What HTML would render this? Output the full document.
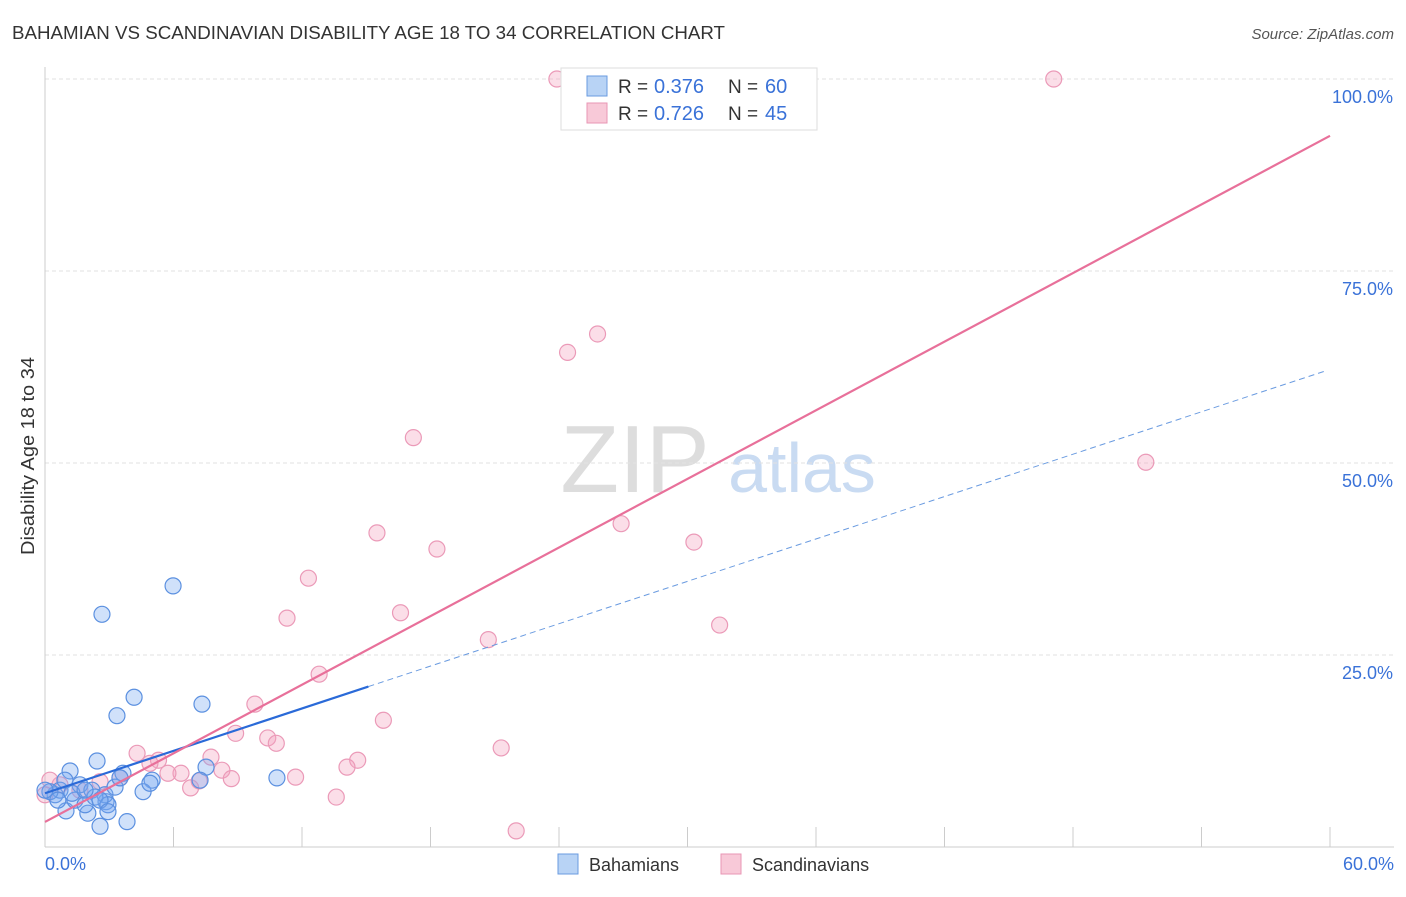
<!DOCTYPE html>
<html><head><meta charset="utf-8"><style>
body{margin:0;background:#fff;font-family:"Liberation Sans",sans-serif}
svg text{font-family:"Liberation Sans",sans-serif}
</style></head><body>
<svg id="c" width="1406" height="892">
<text x="12" y="39" font-size="18" fill="#333" textLength="713" lengthAdjust="spacingAndGlyphs">BAHAMIAN VS SCANDINAVIAN DISABILITY AGE 18 TO 34 CORRELATION CHART</text>
<text x="1394" y="39" font-size="15" fill="#555" font-style="italic" text-anchor="end">Source: ZipAtlas.com</text>
<text x="0" y="0" transform="translate(34,456) rotate(-90)" font-size="18" fill="#333" text-anchor="middle" textLength="198" lengthAdjust="spacingAndGlyphs">Disability Age 18 to 34</text>
<text x="635" y="492" font-size="96" fill="#ddd" font-family="Liberation Serif" text-anchor="middle">ZIP</text>
<text x="802" y="492" font-size="70" fill="#c9dbf2" text-anchor="middle">atlas</text>
<g id="grid"></g><g id="marks"></g><g id="lines"></g>
<g>
<rect x="561" y="68" width="256" height="62" fill="#fff" stroke="#ddd"/>
<rect x="587" y="76" width="20" height="20" fill="#b8d3f5" stroke="#6a9be0"/>
<text x="618" y="93" font-size="19" fill="#333">R =</text><text x="654" y="93" font-size="20" fill="#3a72d8">0.376</text>
<text x="728" y="93" font-size="19" fill="#333">N =</text><text x="765" y="93" font-size="20" fill="#3a72d8">60</text>
<rect x="587" y="103" width="20" height="20" fill="#f8c9d8" stroke="#e896b4"/>
<text x="618" y="120" font-size="19" fill="#333">R =</text><text x="654" y="120" font-size="20" fill="#3a72d8">0.726</text>
<text x="728" y="120" font-size="19" fill="#333">N =</text><text x="765" y="120" font-size="20" fill="#3a72d8">45</text>
</g>
<g>
<rect x="558" y="854" width="20" height="20" fill="#b8d3f5" stroke="#6a9be0"/>
<text x="589" y="871" font-size="18" fill="#333">Bahamians</text>
<rect x="721" y="854" width="20" height="20" fill="#f8c9d8" stroke="#e896b4"/>
<text x="752" y="871" font-size="18" fill="#333">Scandinavians</text>
</g>
</svg>
<script>
const yTicks=[25,50,75,100];
const xTickLabels=["0.0%","60.0%"];
const blueX=[5.98,2.66,4.16,3.36,7.33,2.43,7.52,10.83,5.0,3.64,4.58,3.83,2.57,2.85,2.0,0.98,1.17,0.47,0.7,0.23,1.4,1.63,2.19,2.8,1.87,0.93,3.27,4.9,7.24,0,0.6,2.33,2.94,3.5,1.26,1.87,2.57,2.94];
const blueY=[34.0,30.3,19.5,17.1,18.6,11.2,10.4,9.0,8.7,9.6,7.2,3.3,2.7,5.9,4.4,4.7,9.9,6.8,7.4,7.2,6.1,8.1,7.4,6.8,5.5,8.7,7.8,8.3,8.7,7.4,6.1,6.5,5.5,9.0,7.0,7.4,6.1,4.6];
const pinkX=[23.9,47.1,25.8,24.4,17.2,51.4,15.5,18.3,26.9,30.3,12.3,11.3,16.6,20.7,31.5,12.8,9.8,15.8,8.9,10.4,10.8,21.3,14.6,14.1,4.3,5.3,7.75,8.26,8.7,11.7,6.35,5.74,6.8,7.2,13.6,22.0,4.9,3.5,2.57,0.7,0.23,1.63,0];
const pinkY=[100,100,66.8,64.4,53.3,50.1,40.9,38.8,42.1,39.7,35.0,29.8,30.5,27.0,28.9,22.5,18.6,16.5,14.8,14.2,13.5,12.9,11.3,10.4,12.2,11.3,11.7,10.0,8.9,9.1,9.6,9.6,7.7,8.6,6.5,2.1,10.9,9.0,8.5,8.1,8.7,7.4,6.8];
const pinkFit=[3.26,92.6];
const blueFit=[7.0,62.0];
const blueSolidEnd=15.1;
const X=v=>45+v/60*1285, Y=v=>847-v/100*768;
const NS="http://www.w3.org/2000/svg";
function mk(t,a,p){const e=document.createElementNS(NS,t);for(const k in a)e.setAttribute(k,a[k]);p.appendChild(e);return e;}
const g=document.getElementById('grid');
yTicks.forEach(t=>{
 const l=mk('line',{x1:45,x2:1394,y1:Y(t),y2:Y(t),stroke:'#e2e2e2','stroke-dasharray':'4,3'},g);
 
 
 const tx=mk('text',{x:1393,y:Y(t)+24,'font-size':18,fill:'#3a72d8','text-anchor':'end'},g);
 tx.textContent=t.toFixed(1)+'%';
 
 
});
const ax=mk('line',{x1:45,x2:45,y1:67,y2:847,stroke:'#ccc'},g);


const bx=mk('line',{x1:45,x2:1394,y1:847,y2:847,stroke:'#ccc'},g);


for(let i=1;i<=10;i++){const t=mk('line',{x1:X(i*6),x2:X(i*6),y1:827,y2:847,stroke:'#ccc'},g);
 
 }
[[0,'start'],[60,'end']].forEach((p,i)=>{const t=mk('text',{x:i?1394:45,y:870,'font-size':18,fill:'#3a72d8','text-anchor':p[1]},g);t.textContent=xTickLabels[i];
 
 });
const m=document.getElementById('marks');
pinkX.forEach((v,i)=>{const c=mk('circle',{cx:X(v),cy:Y(pinkY[i]),r:8,fill:'rgba(244,160,190,0.35)',stroke:'#eb9ab8','stroke-width':1.2},m);
 
 });
blueX.forEach((v,i)=>{const c=mk('circle',{cx:X(v),cy:Y(blueY[i]),r:8,fill:'rgba(120,170,240,0.35)',stroke:'#5b90e0','stroke-width':1.2},m);
 
 });
const L=document.getElementById('lines');
const bf=x=>blueFit[0]+(blueFit[1]-blueFit[0])*x/59.8;
const d=mk('line',{x1:X(blueSolidEnd),y1:Y(bf(blueSolidEnd)),x2:X(59.8),y2:Y(blueFit[1]),stroke:'#6a9be0','stroke-width':1,'stroke-dasharray':'6,4'},L);


const s=mk('line',{x1:X(0),y1:Y(blueFit[0]),x2:X(blueSolidEnd),y2:Y(bf(blueSolidEnd)),stroke:'#2a6ad8','stroke-width':2.2},L);


const p=mk('line',{x1:X(0),y1:Y(pinkFit[0]),x2:X(60),y2:Y(pinkFit[1]),stroke:'#e8709a','stroke-width':2.2},L);


</script>
</body></html>
